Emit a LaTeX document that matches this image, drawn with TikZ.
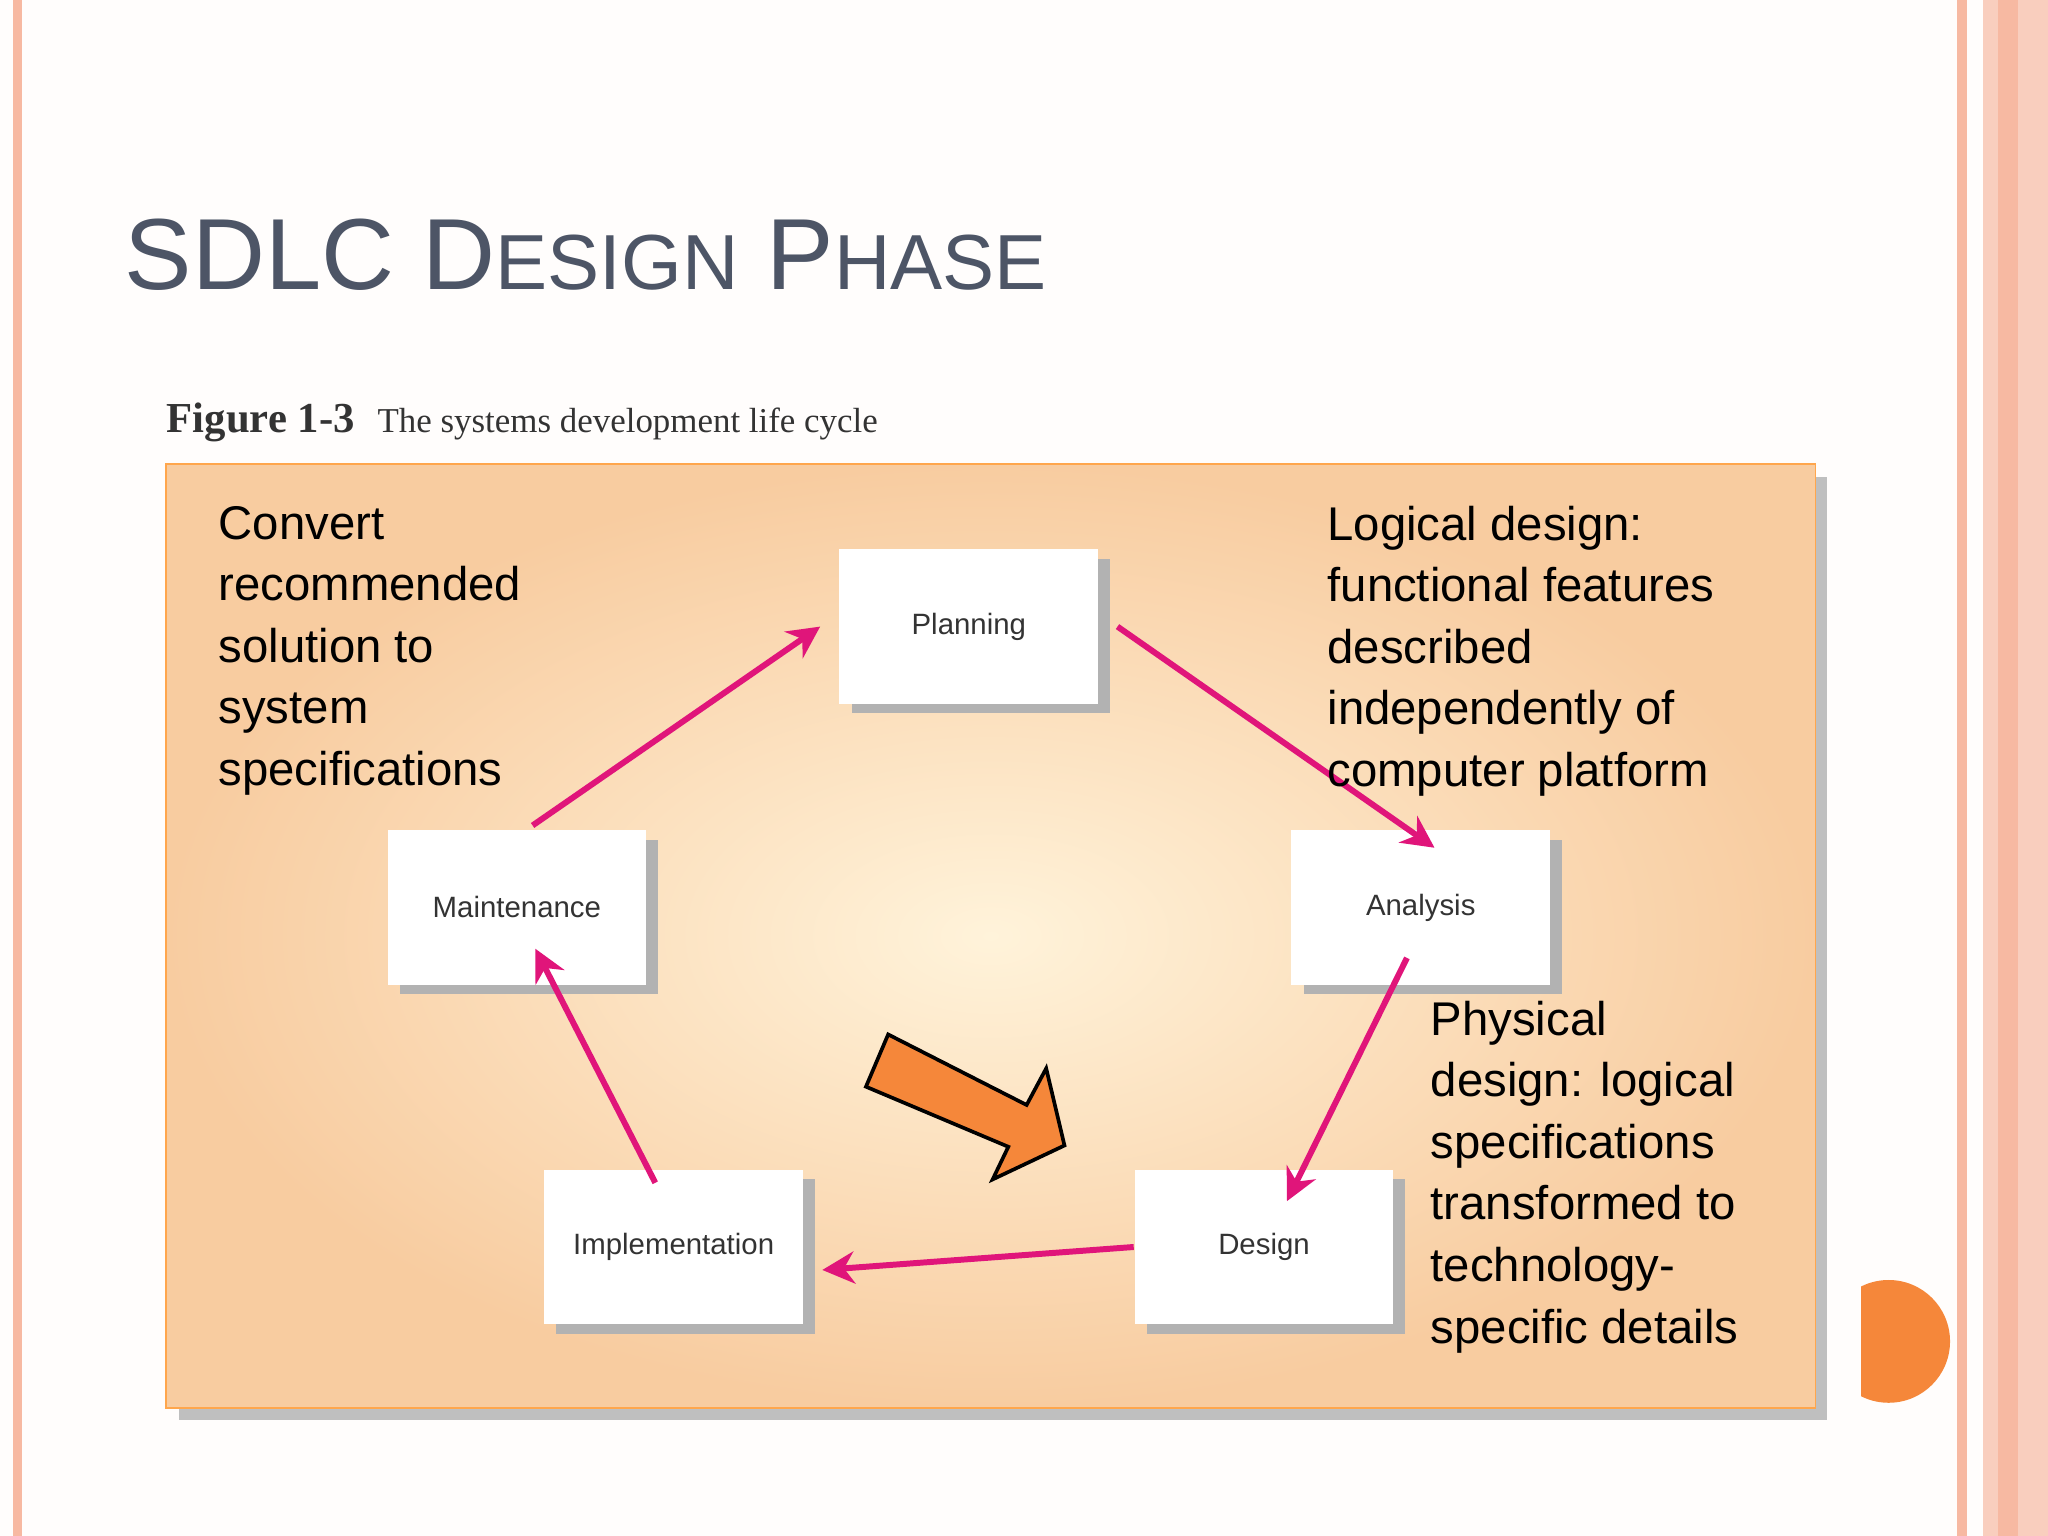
\documentclass[tikz,border=0pt]{standalone}
\usepackage{fontspec}
\setmainfont{Liberation Serif}
\setsansfont{Liberation Sans}
\usetikzlibrary{shadings}
\definecolor{mag}{HTML}{E0157A}
\definecolor{org}{HTML}{F5873A}
\definecolor{salmon}{HTML}{F7B9A2}
\definecolor{titlegray}{HTML}{4D5566}
\tikzset{
  x=0.01cm,y=-0.01cm,
  phase/.style={fill=white,minimum width=1.98cm,minimum height=1.18cm,anchor=north west,font=\sffamily\fontsize{6.4}{7}\selectfont,text=black!80},
  shad/.style={fill=black!30},
  flow/.style={draw=mag,line width=1.3pt,-{Stealth[length=7pt,width=7pt]}},
  note/.style={anchor=north west,align=left,font=\sffamily\fontsize{10.3}{13.4}\selectfont,text=black}
}
\usetikzlibrary{arrows.meta}
\begin{document}
\begin{tikzpicture}
\useasboundingbox (0,0) rectangle (1568,1176);
\fill[white!97!salmon] (0,0) rectangle (1568,1176);
\fill[salmon] (10,0) rectangle (17,1176);
\fill[salmon] (1498,0) rectangle (1506,1176);
\fill[salmon!70] (1518,0) rectangle (1568,1176);
\fill[salmon] (1530,0) rectangle (1545,1176);
% title
\node[anchor=base west,text=titlegray,font=\sffamily\fontsize{22}{24}\selectfont,inner sep=0] (title) at (95,222)
 {SDLC D{\fontsize{17}{20}\selectfont ESIGN} P{\fontsize{17}{20}\selectfont HASE}};
\node[anchor=base west,inner sep=0,text=black!80] (cap) at (127,331)
 {{\bfseries\fontsize{9.3}{11}\selectfont Figure 1-3}\hspace{0.5em}{\fontsize{7.6}{9}\selectfont The systems development life cycle}};
% panel
\fill[black!25] (137,365) rectangle (1399,1087);
\shade[inner color=orange!10!white!95!yellow,outer color=orange!45!brown!25!white!80!orange,draw=orange!70] (127,355) rectangle (1390,1078);
\fill[orange!40!white,opacity=0.0] (127,355) rectangle (1390,1078);
% boxes
\foreach \x/\y in {642/420,988/635,868/895,416/895,296/635}{
  \fill[shad] (\x+10,\y+8) rectangle (\x+208,\y+126);}
\node[phase] (plan) at (642,420) {Planning};
\node[phase] (ana) at (988,635) {Analysis};
\node[phase] (des) at (868,895) {Design};
\node[phase] (imp) at (416,895) {Implementation};
\node[phase] (mai) at (296,635) {Maintenance};
% arrows
\draw[flow] (mai.north)++(12,-3) -- ([xshift=-4]plan.west);
\draw[flow] ([xshift=4]plan.east) -- ([xshift=3,yshift=-4]ana.north);
\draw[flow] ([xshift=-3,yshift=6]ana.south) -- ([xshift=5,yshift=-7]des.north);
\draw[flow] (des.west) -- ([xshift=4,yshift=-5]imp.east);
\draw[flow] ([xshift=-4,yshift=-3]imp.north) -- ([xshift=4,yshift=8]mai.south);
% notes
\node[note] (n1) at (155,375) {Convert\\recommended\\solution to\\system\\specifications};
\node[note] (n2) at (1004,375) {Logical design:\\functional features\\described\\independently of\\computer platform};
\node[note] (n3) at (1083,754) {Physical\\design: logical\\specifications\\transformed to\\technology-\\specific details};
% orange block arrow
\filldraw[fill=org,draw=black,line width=0.8pt] (680,792) -- (786,846) -- (801,818) -- (815,877) -- (760,903) -- (772,878) -- (663,832) -- cycle;
% half circle
\begin{scope}
\clip (1425,970) rectangle (1500,1080);
\fill[org] (1446,1027) circle (47);
\end{scope}
\end{tikzpicture}
\end{document}
